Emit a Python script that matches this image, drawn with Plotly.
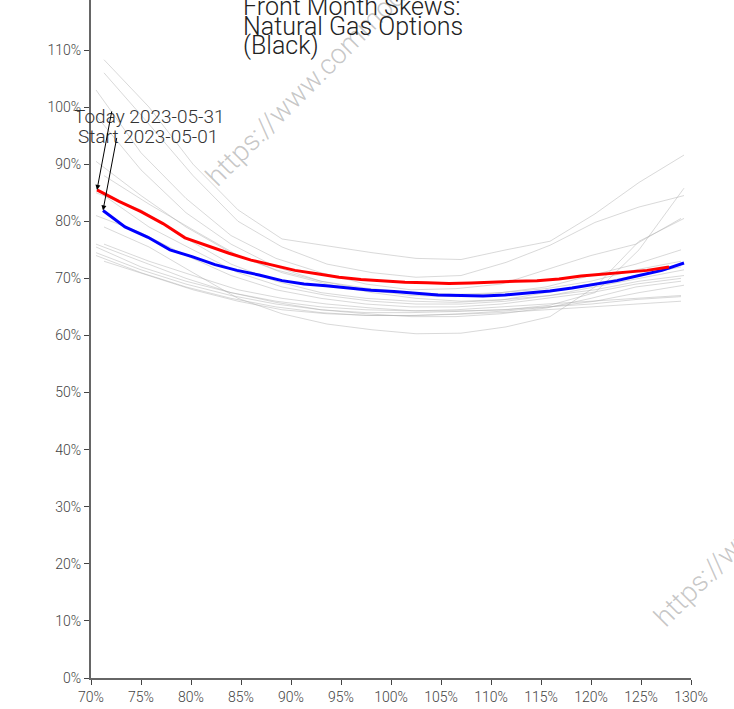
import plotly.graph_objects as go

# moneyness (%) and implied vol (%)
TODAY_LABEL = "Today 2023-05-31"
START_LABEL = "Start 2023-05-01"

TODAY_X = [70.6, 72.8, 75.0, 77.2, 79.4, 81.6, 83.8, 86.0, 88.2, 90.4, 92.6, 94.8, 97.0, 99.2,
           101.4, 103.6, 105.8, 108.0, 110.2, 112.4, 114.6, 116.8, 119.0, 121.2, 123.4, 125.6, 127.8]
TODAY_IV = [85.5, 83.5, 81.7, 79.6, 77.1, 75.7, 74.4, 73.2, 72.3, 71.4, 70.8, 70.2, 69.8, 69.5,
            69.3, 69.25, 69.1, 69.2, 69.4, 69.5, 69.6, 69.9, 70.4, 70.7, 71.1, 71.4, 72.0]

START_X = [71.2, 73.4, 75.7, 77.9, 80.1, 82.4, 84.6, 86.8, 89.1, 91.3, 93.5, 95.8, 98.0, 100.3,
           102.5, 104.7, 107.0, 109.2, 111.4, 113.7, 115.9, 118.1, 120.4, 122.6, 124.8, 127.1, 129.3]
START_IV = [81.9, 79.0, 77.2, 75.0, 73.8, 72.4, 71.4, 70.6, 69.6, 69.0, 68.7, 68.3, 67.9, 67.7,
            67.4, 67.1, 67.0, 66.9, 67.1, 67.4, 67.8, 68.3, 68.9, 69.6, 70.5, 71.4, 72.7]

# days in between (grey history)
GRAY_X_A = [70.5, 75.0, 79.5, 84.0, 88.5, 93.0, 97.5, 102.0, 106.5, 111.0, 115.5, 120.0, 124.5, 129.0]
GRAY_X_B = [71.3, 75.8, 80.2, 84.7, 89.1, 93.6, 98.1, 102.5, 107.0, 111.5, 115.9, 120.4, 124.8, 129.3]

GRAY_A = [
    [103.0, 92.0, 84.0, 77.5, 73.5, 71.0, 69.0, 68.0, 68.2, 69.0, 71.5, 74.0, 76.0, 80.5],
    [98.5, 89.0, 81.5, 76.0, 72.0, 69.5, 68.0, 67.0, 66.8, 67.5, 68.5, 70.5, 72.5, 75.0],
    [90.5, 84.5, 79.0, 74.5, 71.5, 69.5, 68.3, 67.5, 67.2, 67.5, 68.2, 69.5, 71.5, 73.0],
    [85.0, 82.0, 77.0, 72.5, 69.5, 67.5, 66.5, 66.0, 65.8, 66.2, 67.5, 69.0, 70.5, 72.0],
    [81.0, 78.0, 74.0, 70.5, 68.0, 66.5, 65.5, 65.0, 65.0, 65.5, 66.5, 67.5, 69.0, 70.0],
    [75.5, 72.0, 69.5, 67.5, 66.0, 65.0, 64.5, 64.3, 64.5, 65.0, 65.5, 66.0, 66.5, 67.0],
    [74.5, 71.5, 69.0, 67.0, 65.5, 64.5, 64.0, 64.0, 64.2, 64.5, 65.0, 65.5, 66.3, 66.8],
    [74.0, 71.0, 68.5, 66.5, 65.0, 64.0, 63.5, 63.5, 63.7, 64.0, 64.5, 65.0, 65.5, 66.0],
    [76.0, 73.0, 70.0, 67.5, 65.8, 64.5, 63.8, 63.3, 63.3, 63.8, 64.8, 66.5, 68.5, 69.5],
]
GRAY_B = [
    [108.3, 100.0, 90.0, 82.0, 76.9, 75.7, 74.5, 73.5, 73.3, 75.0, 76.5, 81.3, 86.8, 91.6],
    [106.0, 97.0, 88.0, 80.0, 75.5, 72.5, 71.0, 70.2, 70.5, 72.8, 75.8, 79.8, 82.5, 84.5],
    [88.0, 83.0, 78.5, 74.0, 71.0, 69.0, 67.5, 66.5, 66.0, 66.3, 67.0, 68.5, 70.0, 71.5],
    [84.5, 79.0, 75.0, 71.0, 68.5, 67.0, 66.0, 65.5, 65.5, 66.0, 67.0, 68.0, 69.5, 70.5],
    [79.0, 75.5, 71.0, 66.5, 63.8, 62.0, 61.0, 60.3, 60.4, 61.5, 63.3, 68.5, 76.5, 80.5],
    [76.0, 73.0, 70.5, 68.0, 66.5, 65.5, 64.8, 64.3, 64.3, 64.5, 65.3, 67.5, 75.0, 85.8],
    [73.0, 70.5, 68.0, 66.0, 64.5, 63.8, 63.5, 63.5, 63.8, 64.3, 65.0, 66.0, 67.5, 68.8],
]

WATERMARK = "https://www.commodityvol.com"
TITLE_LINES = ["Front Month Skews:", "Natural Gas Options", "(Black)"]

FONT = "Roboto"

fig = go.Figure()

for iv in GRAY_A:
    fig.add_trace(go.Scatter(x=GRAY_X_A, y=iv, mode="lines",
                             line=dict(color="rgba(170,170,170,0.45)", width=1)))
for iv in GRAY_B:
    fig.add_trace(go.Scatter(x=GRAY_X_B, y=iv, mode="lines",
                             line=dict(color="rgba(170,170,170,0.45)", width=1)))

fig.add_trace(go.Scatter(x=START_X, y=START_IV, mode="lines", line=dict(color="blue", width=3)))
fig.add_trace(go.Scatter(x=TODAY_X, y=TODAY_IV, mode="lines", line=dict(color="red", width=3)))

# watermarks
for wx, wy in [(0.43, 0.938), (1.178, 0.289)]:
    fig.add_annotation(text=WATERMARK, xref="paper", yref="paper", x=wx, y=wy,
                       xanchor="center", yanchor="middle",
                       showarrow=False, textangle=-45,
                       font=dict(family=FONT, size=28, color="rgba(120,120,120,0.42)", weight=300))

# title, one line per annotation (tight leading)
for line, ty in zip(TITLE_LINES, [0.990, 0.9606, 0.9326]):
    fig.add_annotation(text=line, xref="paper", yref="paper", x=0.25, y=ty,
                       xanchor="left", yanchor="middle", showarrow=False,
                       font=dict(family=FONT, size=25, color="#222", weight=300))

# labels + arrows
fig.add_annotation(text=TODAY_LABEL, x=75.8, y=98.4, showarrow=False,
                   font=dict(family=FONT, size=19, color="#333", weight=300))
fig.add_annotation(text=START_LABEL, x=75.7, y=94.9, showarrow=False,
                   font=dict(family=FONT, size=19, color="#333", weight=300))
fig.add_annotation(text="", x=TODAY_X[0], y=TODAY_IV[0], ax=15, ay=-80,
                   showarrow=True, arrowhead=2, arrowsize=1, arrowwidth=1, arrowcolor="black")
fig.add_annotation(text="", x=START_X[0], y=START_IV[0], ax=14, ay=-74,
                   showarrow=True, arrowhead=2, arrowsize=1, arrowwidth=1, arrowcolor="black")

axis_common = dict(showgrid=False, zeroline=False, showline=True, linecolor="#666", linewidth=2,
                   ticks="outside", ticklen=5, tickcolor="#444", ticksuffix="%",
                   tickfont=dict(family=FONT, size=14, color="#444", weight=300))

fig.update_xaxes(range=[70, 130], dtick=5, **axis_common)
fig.update_yaxes(range=[0, 118.76], dtick=10, **axis_common)

fig.update_layout(
    template="none",
    width=734,
    height=709,
    showlegend=False,
    paper_bgcolor="white",
    plot_bgcolor="white",
    font=dict(family=FONT),
    margin=dict(l=91, r=43, t=0, b=31),
)

fig.write_html("out.html", config={"displayModeBar": False},
               post_script="document.body.style.margin='0';")
